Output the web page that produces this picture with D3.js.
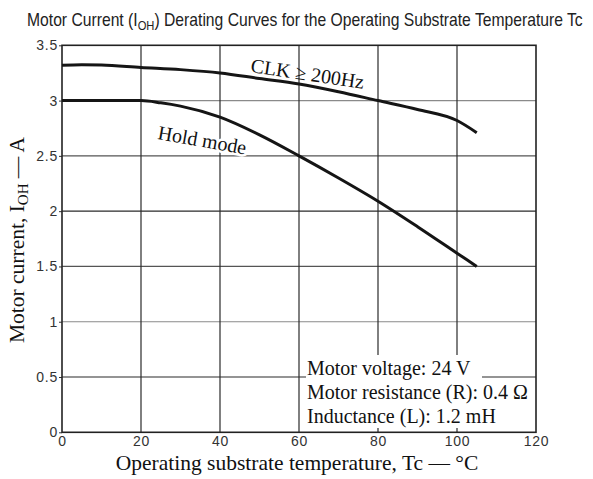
<!DOCTYPE html>
<html>
<head>
<meta charset="utf-8">
<script src="https://cdn.jsdelivr.net/npm/d3@7/dist/d3.min.js"></script>
<style>
  html, body { margin: 0; padding: 0; background: #fff; }
  svg { display: block; }
</style>
</head>
<body>
<svg id="chart" width="593" height="479"></svg>
<script>
// Axis ticks
const xTicks = [0, 20, 40, 60, 80, 100, 120];
const yTicks = [0, 0.5, 1, 1.5, 2, 2.5, 3, 3.5];

// CLK >= 200Hz curve
const clkTemp    = [0, 5, 10, 20, 30, 40, 50, 60, 70, 80, 90, 100, 105];
const clkCurrent = [3.32, 3.325, 3.322, 3.30, 3.28, 3.25, 3.20, 3.15, 3.08, 3.0, 2.92, 2.82, 2.71];

// Hold mode curve
const holdTemp    = [0, 20, 25, 30, 40, 50, 60, 70, 80, 90, 100, 105];
const holdCurrent = [3.0, 3.0, 2.98, 2.95, 2.85, 2.69, 2.5, 2.30, 2.09, 1.86, 1.62, 1.50];

// Test conditions
const conditions = ["Motor voltage: 24 V", "Motor resistance (R): 0.4 \u03A9", "Inductance (L): 1.2 mH"];

const svg = d3.select("#chart");
const plotL = 62, plotR = 536, plotT = 45.3, plotB = 432.3;

const x = d3.scaleLinear().domain([0, 120]).range([plotL, plotR]);
const y = d3.scaleLinear().domain([0, 3.5]).range([plotB, plotT]);

const serif = "'Liberation Serif', 'Times New Roman', serif";
const sans = "'Liberation Sans', Arial, sans-serif";

// Title, condensed horizontally to a narrow face
const title = svg.append("text")
  .attr("font-family", sans).attr("font-size", 17.5).attr("fill", "#222");
title.append("tspan").text("Motor Current (I");
title.append("tspan").attr("font-size", 12.5).attr("dy", 4).text("OH");
title.append("tspan").attr("dy", -4).text(") Derating Curves for the Operating Substrate Temperature Tc");
const titleW = title.node().getComputedTextLength();
title.attr("transform", `translate(27,26) scale(${556 / titleW},1)`);

// Grid lines
const gridColor = v => (v === 3 || v === 1) ? "#8a8a8a" : (v === 2.5 || v === 1.5) ? "#555" : "#2a2a2a";
svg.append("g").selectAll("line").data(yTicks.filter(v => v > 0 && v < 3.5)).join("line")
  .attr("x1", plotL).attr("x2", plotR)
  .attr("y1", d => y(d)).attr("y2", d => y(d))
  .attr("stroke", gridColor).attr("stroke-width", 1.2);
svg.append("g").selectAll("line").data(xTicks.filter(v => v > 0 && v < 120)).join("line")
  .attr("x1", d => x(d)).attr("x2", d => x(d))
  .attr("y1", plotT).attr("y2", plotB)
  .attr("stroke", "#2a2a2a").attr("stroke-width", 1.2);

// Axes (short outward ticks on the value axis)
const yAxis = svg.append("g").attr("transform", `translate(${plotL},0)`)
  .call(d3.axisLeft(y).tickValues(yTicks).tickSize(3).tickPadding(1).tickFormat(d3.format("~g")));
const xAxis = svg.append("g").attr("transform", `translate(0,${plotB})`)
  .call(d3.axisBottom(x).tickValues(xTicks).tickSize(0).tickPadding(4).tickFormat(d3.format("d")));
[yAxis, xAxis].forEach(a => {
  a.select(".domain").remove();
  a.selectAll("line").attr("stroke", "#333");
  a.selectAll("text").attr("font-family", sans).attr("font-size", 14).attr("fill", "#333")
    .attr("letter-spacing", 0.8);
});

// Condition box (white background over the grid)
svg.append("rect").attr("x", 306).attr("y", 355).attr("width", 176).attr("height", 30).attr("fill", "#fff");
svg.append("rect").attr("x", 306).attr("y", 378).attr("width", 230).attr("height", 50).attr("fill", "#fff");
svg.append("g").selectAll("text").data(conditions).join("text")
  .attr("x", 307).attr("y", (d, i) => 375 + i * 24)
  .attr("font-family", serif).attr("font-size", 20).attr("fill", "#111")
  .text(d => d);

// Plot frame
svg.append("rect").attr("x", plotL).attr("y", plotT)
  .attr("width", plotR - plotL).attr("height", plotB - plotT)
  .attr("fill", "none").attr("stroke", "#222").attr("stroke-width", 1.6);

// Curves
const line = d3.line().x(d => x(d[0])).y(d => y(d[1])).curve(d3.curveMonotoneX);
svg.append("path").datum(d3.zip(clkTemp, clkCurrent))
  .attr("d", line).attr("fill", "none").attr("stroke", "#151515").attr("stroke-width", 3);
svg.append("path").datum(d3.zip(holdTemp, holdCurrent))
  .attr("d", line).attr("fill", "none").attr("stroke", "#151515").attr("stroke-width", 3);

// Curve labels
svg.append("text")
  .attr("transform", `translate(250,72) rotate(8.5)`)
  .attr("font-family", serif).attr("font-size", 20).attr("fill", "#111")
  .text("CLK \u2265 200Hz");
svg.append("text")
  .attr("transform", `translate(157,139) rotate(10)`)
  .attr("font-family", serif).attr("font-size", 20).attr("fill", "#111")
  .attr("stroke", "#fff").attr("stroke-width", 5).attr("paint-order", "stroke")
  .text("Hold mode");

// Axis titles
const yTitle = svg.append("text")
  .attr("transform", `translate(24,240) rotate(-90)`)
  .attr("text-anchor", "middle")
  .attr("font-family", serif).attr("font-size", 21.5).attr("fill", "#111");
yTitle.append("tspan").text("Motor current, I");
yTitle.append("tspan").attr("font-size", 15).attr("dy", 4).text("OH");
yTitle.append("tspan").attr("dy", -4).text(" \u2014 A");

svg.append("text")
  .attr("x", 297).attr("y", 470).attr("text-anchor", "middle")
  .attr("font-family", serif).attr("font-size", 21.5).attr("fill", "#111")
  .text("Operating substrate temperature, Tc \u2014 \u00B0C");
</script>
</body>
</html>
